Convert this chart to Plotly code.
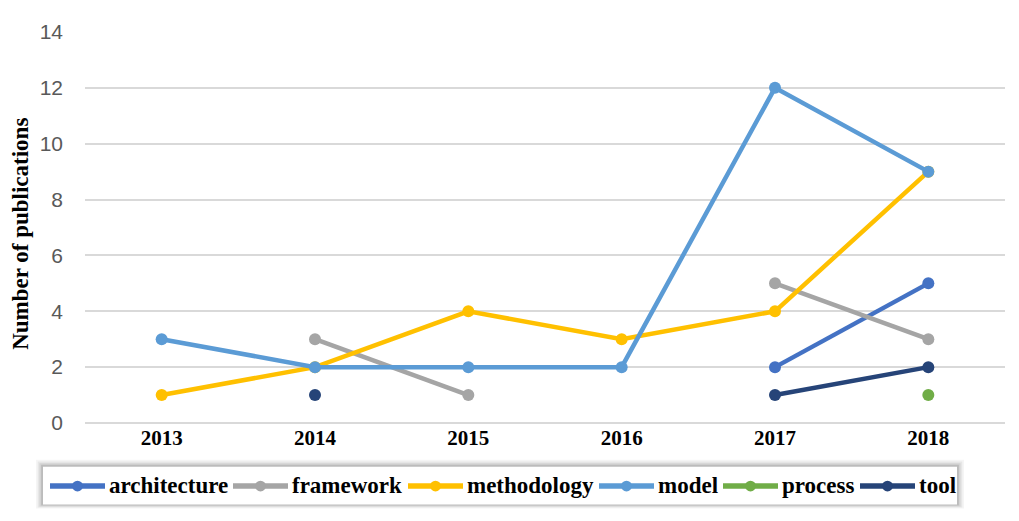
import plotly.graph_objects as go

years = ["2013", "2014", "2015", "2016", "2017", "2018"]
architecture = [None, None, None, None, 2, 5]
framework = [None, 3, 1, None, 5, 3]
methodology = [1, 2, 4, 3, 4, 9]
model = [3, 2, 2, 2, 12, 9]
process = [None, None, None, None, None, 1]
tool = [None, 1, None, None, 1, 2]

names = ["architecture", "framework", "methodology", "model", "process", "tool"]
values = [architecture, framework, methodology, model, process, tool]
colors = ["#4472C4", "#A5A5A5", "#FFC000", "#5B9BD5", "#70AD47", "#264478"]

# page has an 8px body margin; plot area targeted at x 85..1005, y 20..423
PL, PR, PT, PB = 85, 1005, 20, 423
PW, PH = PR - PL, PB - PT


def px(x):
    return (x - PL) / PW


def py(y):
    return (PB - y) / PH


fig = go.Figure()
for name, vals, color in zip(names, values, colors):
    fig.add_trace(go.Scatter(
        x=years, y=vals, name=name, mode="lines+markers",
        line=dict(color=color, width=4.5),
        marker=dict(color=color, size=12),
        connectgaps=False, showlegend=False,
    ))

# legend box with soft shadow
LX0, LX1, LY0, LY1 = 43, 957, 468, 507
for i, op in enumerate([0.04, 0.06, 0.08, 0.11]):
    d = 7 - i * 1.7
    fig.add_shape(type="rect", xref="paper", yref="paper",
                  x0=px(LX0 - d), x1=px(LX1 + d),
                  y0=py(LY1 + d * 0.6), y1=py(LY0 - d),
                  line=dict(width=0), fillcolor=f"rgba(0,0,0,{op})", layer="below")
fig.add_shape(type="rect", xref="paper", yref="paper",
              x0=px(LX0), x1=px(LX1), y0=py(LY1), y1=py(LY0),
              line=dict(width=0), fillcolor="white", layer="below")

# custom legend entries (swatch start x in pixels)
swatch_x = [50, 233, 408, 599, 723, 860]
SW, LYC = 55, 488
annotations = []
for name, color, sx in zip(names, colors, swatch_x):
    fig.add_shape(type="line", xref="paper", yref="paper",
                  x0=px(sx), x1=px(sx + SW), y0=py(LYC), y1=py(LYC),
                  line=dict(color=color, width=5.5))
    cx = sx + SW / 2
    fig.add_shape(type="circle", xref="paper", yref="paper",
                  x0=px(cx - 5.5), x1=px(cx + 5.5), y0=py(LYC + 5.5), y1=py(LYC - 5.5),
                  line=dict(width=0), fillcolor=color)
    annotations.append(dict(text=f"<b>{name}</b>", xref="paper", yref="paper",
                            x=px(sx + SW + 2), y=py(LYC - 1), xanchor="left", yanchor="middle",
                            showarrow=False,
                            font=dict(family="Liberation Serif", size=23, color="black")))

annotations.append(dict(text="<b>Number of publications</b>", xref="paper", yref="paper",
                        x=px(21), y=py(228), textangle=-90,
                        showarrow=False, xanchor="center", yanchor="middle",
                        font=dict(family="Liberation Serif", size=23, color="black")))

fig.update_layout(
    width=1011, height=513,
    margin=dict(l=PL - 8, r=1019 - PR, t=PT - 8, b=513 + 8 - PB),
    paper_bgcolor="white", plot_bgcolor="white",
    showlegend=False,
    xaxis=dict(type="category", range=[-0.5, 5.5], showgrid=False,
               showline=False, zeroline=False, ticks="",
               tickfont=dict(family="Liberation Serif", size=21, color="black", weight="bold")),
    yaxis=dict(range=[0, 14], dtick=2, showgrid=True, gridcolor="#D9D9D9", gridwidth=1.5,
               zeroline=True, zerolinecolor="#D9D9D9", zerolinewidth=1.5, showline=False,
               ticklabelstandoff=21,
               tickfont=dict(family="Liberation Sans", size=21, color="#595959")),
    annotations=annotations,
)

fig.write_html("out.html")
